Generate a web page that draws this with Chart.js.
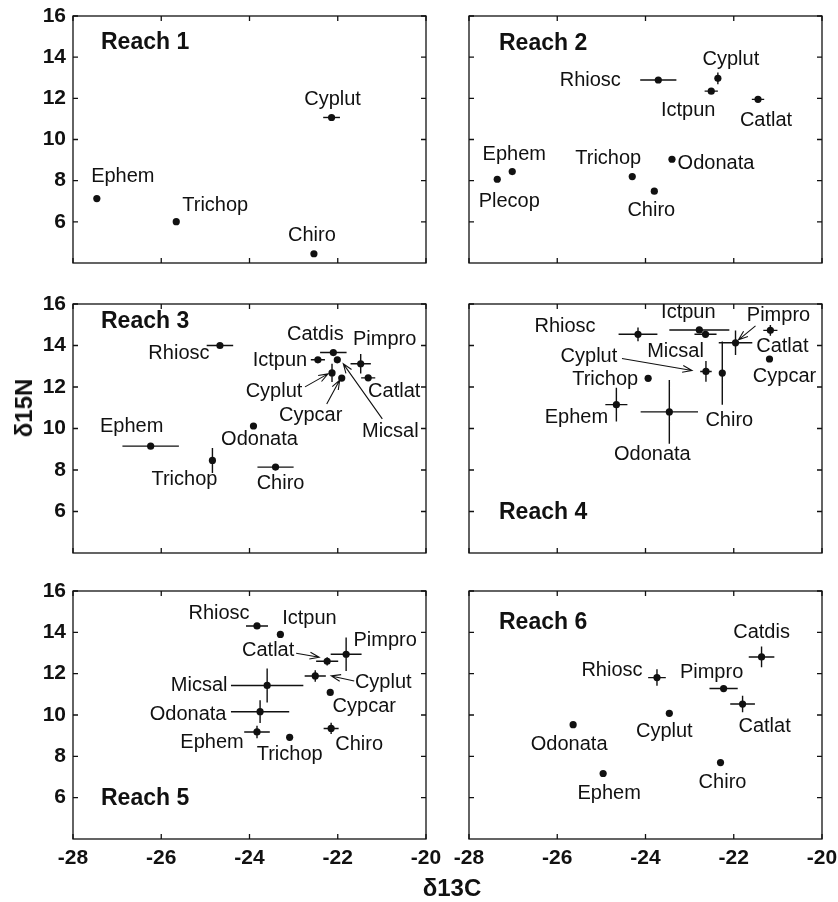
<!DOCTYPE html>
<html>
<head>
<meta charset="utf-8">
<script src="https://cdn.jsdelivr.net/npm/chart.js@4.4.0/dist/chart.umd.min.js"></script>
<style>
html,body{margin:0;padding:0;background:#fff;}
#wrap{position:relative;width:838px;height:902px;overflow:hidden;}
#wrap canvas{position:absolute;left:0;top:0;}
.ax{position:absolute;font:bold 24px "Liberation Sans",Arial,sans-serif;color:#111;white-space:nowrap;}
#ylab{left:24px;top:408px;transform:translate(-50%,-50%) rotate(-90deg);}
#xlab{left:452px;top:888px;transform:translate(-50%,-50%);}
</style>
</head>
<body>
<div id="wrap">
  <canvas id="c1" width="838" height="902"></canvas>
  <canvas id="c2" width="838" height="902"></canvas>
  <canvas id="c3" width="838" height="902"></canvas>
  <canvas id="c4" width="838" height="902"></canvas>
  <canvas id="c5" width="838" height="902"></canvas>
  <canvas id="c6" width="838" height="902"></canvas>
  <div class="ax" id="ylab">δ15N</div>
  <div class="ax" id="xlab">δ13C</div>
</div>
<script>
// axis ticks
var xTicks = [-28, -26, -24, -22, -20]
var yTicks = [6, 8, 10, 12, 14, 16]
var titles = ['Reach 1', 'Reach 2', 'Reach 3', 'Reach 4', 'Reach 5', 'Reach 6']

// Reach 1
var r1Names = ['Ephem', 'Trichop', 'Cyplut', 'Chiro']
var r1C = [-27.46, -25.66, -22.14, -22.54]
var r1N = [7.13, 6.01, 11.07, 4.45]
var r1CErr = [0, 0, 0.19, 0]
var r1NErr = [0, 0, 0, 0]

// Reach 2
var r2Names = ['Rhiosc', 'Cyplut', 'Ictpun', 'Catlat', 'Ephem', 'Plecop', 'Trichop', 'Odonata', 'Chiro']
var r2C = [-23.71, -22.36, -22.51, -21.45, -27.02, -27.36, -24.30, -23.40, -23.80]
var r2N = [12.89, 12.97, 12.35, 11.95, 8.44, 8.07, 8.20, 9.04, 7.49]
var r2CErr = [0.41, 0, 0.15, 0.14, 0, 0, 0, 0, 0]
var r2NErr = [0, 0.28, 0, 0, 0, 0, 0, 0, 0]

// Reach 3
var r3Names = ['Rhiosc', 'Ephem', 'Trichop', 'Odonata', 'Chiro', 'Ictpun', 'Catdis', 'Micsal', 'Cyplut', 'Cypcar', 'Pimpro', 'Catlat']
var r3C = [-24.67, -26.24, -24.84, -23.91, -23.41, -22.45, -22.10, -22.01, -22.13, -21.91, -21.48, -21.31]
var r3N = [14.00, 9.15, 8.46, 10.12, 8.14, 13.31, 13.66, 13.31, 12.68, 12.43, 13.12, 12.44]
var r3CErr = [0.3, 0.64, 0, 0, 0.41, 0.16, 0.3, 0, 0, 0, 0.23, 0.16]
var r3NErr = [0, 0, 0.6, 0, 0, 0, 0, 0, 0.44, 0, 0.47, 0]

// Reach 4
var r4Names = ['Rhiosc', 'Ictpun', 'Micsal', 'Pimpro', 'Catlat', 'Cypcar', 'Cyplut', 'Chiro', 'Trichop', 'Ephem', 'Odonata']
var r4C = [-24.17, -22.78, -22.64, -21.96, -21.17, -21.19, -22.63, -22.26, -23.94, -24.66, -23.46]
var r4N = [14.54, 14.75, 14.54, 14.13, 14.73, 13.35, 12.75, 12.67, 12.42, 11.15, 10.80]
var r4CErr = [0.44, 0.68, 0.25, 0.38, 0.16, 0, 0.13, 0, 0, 0.25, 0.65]
var r4NErr = [0.33, 0, 0, 0.59, 0.26, 0, 0.5, 1.52, 0, 0.81, 1.54]

// Reach 5
var r5Names = ['Rhiosc', 'Ictpun', 'Catlat', 'Pimpro', 'Cyplut', 'Micsal', 'Cypcar', 'Odonata', 'Ephem', 'Trichop', 'Chiro']
var r5C = [-23.83, -23.30, -22.24, -21.81, -22.51, -23.60, -22.17, -23.76, -23.83, -23.09, -22.15]
var r5N = [14.31, 13.90, 12.60, 12.94, 11.89, 11.43, 11.09, 10.16, 9.18, 8.92, 9.35]
var r5CErr = [0.25, 0, 0.25, 0.35, 0.24, 0.82, 0, 0.66, 0.29, 0, 0.17]
var r5NErr = [0, 0, 0.2, 0.81, 0.28, 0.82, 0, 0.55, 0.3, 0, 0.27]

// Reach 6
var r6Names = ['Catdis', 'Rhiosc', 'Pimpro', 'Catlat', 'Cyplut', 'Odonata', 'Ephem', 'Chiro']
var r6C = [-21.37, -23.74, -22.23, -21.80, -23.46, -25.64, -24.96, -22.30]
var r6N = [12.81, 11.81, 11.28, 10.53, 10.08, 9.53, 7.17, 7.70]
var r6CErr = [0.29, 0.2, 0.32, 0.28, 0, 0, 0, 0]
var r6NErr = [0.5, 0.4, 0, 0.4, 0, 0, 0, 0]

// layout: panel boxes and label offsets (px from the point)
var colL = [73, 469], colR = [426, 822]
var rowT = [16, 304, 591], rowB = [263, 553, 839]
var YW = 60, XH = 30

var panels = [
  {names: r1Names, c: r1C, n: r1N, ce: r1CErr, ne: r1NErr, col: 0, row: 0, title: [28, 27],
   lab: [[26,-22],[39,-16],[1,-18],[-2,-18]], arrows: {}},
  {names: r2Names, c: r2C, n: r2N, ce: r2CErr, ne: r2NErr, col: 1, row: 0, title: [30, 28],
   lab: [[-68,0],[13,-19],[-23,19],[8,21],[2,-17],[12,22],[-24,-18],[44,4],[-3,19]], arrows: {}},
  {names: r3Names, c: r3C, n: r3N, ce: r3CErr, ne: r3NErr, col: 0, row: 1, title: [28, 18],
   lab: [[-41,8],[-19,-20],[-28,19],[6,13],[5,16],[-38,1],[-18,-18],[53,72],[-58,19],[-31,37],[24,-24],[26,14]],
   arrows: {Micsal: [45,59,6,4], Cyplut: [-27,14,-4,1], Cypcar: [-15,26,-2,2]}},
  {names: r4Names, c: r4C, n: r4N, ce: r4CErr, ne: r4NErr, col: 1, row: 1, title: [30, 209],
   lab: [[-73,-8],[-11,-17],[-30,17],[43,-27],[12,16],[15,17],[-117,-15],[7,47],[-43,1],[-40,13],[-17,43]],
   arrows: {Pimpro: [20,-17,3,-3], Cyplut: [-84,-13,-14,-1]}},
  {names: r5Names, c: r5C, n: r5N, ce: r5CErr, ne: r5NErr, col: 0, row: 2, title: [28, 208],
   lab: [[-38,-12],[29,-16],[-59,-11],[39,-14],[68,7],[-68,0],[34,14],[-72,3],[-45,11],[0,17],[28,16]],
   arrows: {Catlat: [-31,-8,-8,-4], Cyplut: [39,5,16,0]}},
  {names: r6Names, c: r6C, n: r6N, ce: r6CErr, ne: r6NErr, col: 1, row: 2, title: [30, 32],
   lab: [[0,-24],[-45,-7],[-12,-16],[22,22],[-5,18],[-4,20],[6,20],[2,20]], arrows: {}}
]

Chart.defaults.font.family = '"Liberation Sans", Arial, sans-serif'
Chart.defaults.color = '#111'

function noPad(s) {
  s.paddingLeft = 0; s.paddingRight = 0; s.paddingTop = 0; s.paddingBottom = 0
}

var deco = {
  id: 'deco',
  afterDraw: function(chart) {
    var p = chart.options.plugins.deco
    var ctx = chart.ctx, a = chart.chartArea
    var xs = chart.scales.x, ys = chart.scales.y
    ctx.save()
    ctx.strokeStyle = '#111'
    ctx.fillStyle = '#111'
    ctx.lineWidth = 1.3
    ctx.strokeRect(a.left, a.top, a.right - a.left, a.bottom - a.top)
    // inner tick marks on all four sides
    ctx.beginPath()
    xTicks.forEach(function(v) {
      var px = xs.getPixelForValue(v)
      ctx.moveTo(px, a.bottom); ctx.lineTo(px, a.bottom - 5)
      ctx.moveTo(px, a.top); ctx.lineTo(px, a.top + 5)
    })
    yTicks.forEach(function(v) {
      var py = ys.getPixelForValue(v)
      ctx.moveTo(a.left, py); ctx.lineTo(a.left + 5, py)
      ctx.moveTo(a.right, py); ctx.lineTo(a.right - 5, py)
    })
    ctx.stroke()
    // error bars
    ctx.lineWidth = 1.4
    ctx.beginPath()
    p.c.forEach(function(c, i) {
      var px = xs.getPixelForValue(c), py = ys.getPixelForValue(p.n[i])
      if (p.ce[i] > 0) {
        ctx.moveTo(xs.getPixelForValue(c - p.ce[i]), py)
        ctx.lineTo(xs.getPixelForValue(c + p.ce[i]), py)
      }
      if (p.ne[i] > 0) {
        ctx.moveTo(px, ys.getPixelForValue(p.n[i] - p.ne[i]))
        ctx.lineTo(px, ys.getPixelForValue(p.n[i] + p.ne[i]))
      }
    })
    ctx.stroke()
    // labels
    ctx.font = '20px "Liberation Sans", Arial, sans-serif'
    ctx.textAlign = 'center'
    ctx.textBaseline = 'middle'
    p.names.forEach(function(nm, i) {
      var px = xs.getPixelForValue(p.c[i]), py = ys.getPixelForValue(p.n[i])
      ctx.fillText(nm, px + p.lab[i][0], py + p.lab[i][1])
      var ar = p.arrows[nm]
      if (ar) {
        var x0 = px + ar[0], y0 = py + ar[1], x1 = px + ar[2], y1 = py + ar[3]
        var ang = Math.atan2(y1 - y0, x1 - x0), hl = 10
        ctx.lineWidth = 1.1
        ctx.beginPath()
        ctx.moveTo(x0, y0); ctx.lineTo(x1, y1)
        ctx.moveTo(x1 - hl * Math.cos(ang - 0.35), y1 - hl * Math.sin(ang - 0.35))
        ctx.lineTo(x1, y1)
        ctx.lineTo(x1 - hl * Math.cos(ang + 0.35), y1 - hl * Math.sin(ang + 0.35))
        ctx.stroke()
      }
    })
    // panel title
    ctx.font = 'bold 23px "Liberation Sans", Arial, sans-serif'
    ctx.textAlign = 'left'
    ctx.fillText(p.titleText, a.left + p.title[0], a.top + p.title[1])
    ctx.restore()
  }
}

panels.forEach(function(p, k) {
  var L = colL[p.col], R = colR[p.col], T = rowT[p.row], B = rowB[p.row]
  p.titleText = titles[k]
  new Chart(document.getElementById('c' + (k + 1)), {
    type: 'scatter',
    data: {
      datasets: [{
        data: p.c.map(function(c, i) { return {x: c, y: p.n[i]} }),
        pointRadius: 3.6,
        pointBackgroundColor: '#111',
        pointBorderWidth: 0
      }]
    },
    options: {
      responsive: false,
      animation: false,
      events: [],
      layout: {padding: {left: L - YW, right: 838 - R, top: T, bottom: 902 - B - XH}},
      plugins: {legend: {display: false}, tooltip: {enabled: false}, deco: p},
      scales: {
        x: {
          type: 'linear', min: -28, max: -20,
          afterBuildTicks: function(s) { s.ticks = xTicks.map(function(v) { return {value: v} }) },
          afterFit: function(s) { s.height = XH; noPad(s) },
          grid: {display: false, drawTicks: false},
          border: {display: false},
          ticks: {display: p.row === 2, padding: 7, font: {size: 21, weight: 'bold'}, color: '#111'}
        },
        y: {
          type: 'linear', min: 4, max: 16,
          afterBuildTicks: function(s) { s.ticks = yTicks.map(function(v) { return {value: v} }) },
          afterFit: function(s) { s.width = YW; noPad(s) },
          grid: {display: false, drawTicks: false},
          border: {display: false},
          ticks: {display: p.col === 0, padding: 7, font: {size: 21, weight: 'bold'}, color: '#111'}
        }
      }
    },
    plugins: [deco]
  })
})
</script>
</body>
</html>
